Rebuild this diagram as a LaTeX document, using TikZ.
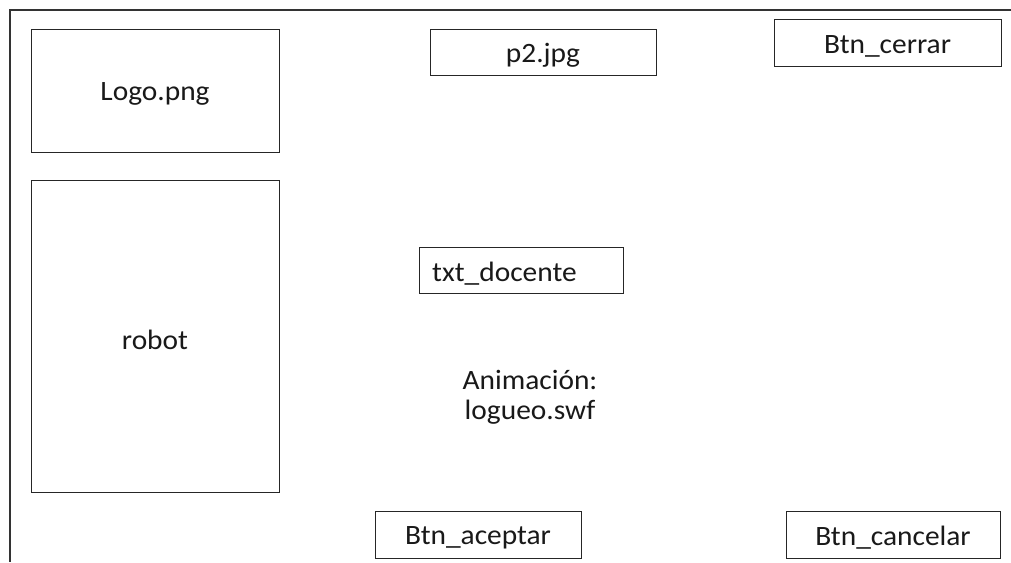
\documentclass[tikz,border=0pt]{standalone}
\usepackage{fontspec}
\setmainfont{Carlito}[FakeStretch=1.05]
\begin{document}
\begin{tikzpicture}[x=1pt,y=-1pt,
  frame/.style={draw=black!80,line width=1.1pt},
  box/.style={draw=black!85,line width=0.9pt,fill=white},
  lbl/.style={font=\fontsize{28}{30}\selectfont,text=black!90,inner sep=0pt,yshift=-3.5pt}]
\useasboundingbox (0,0) rectangle (1011,562);
\fill[white] (0,0) rectangle (1011,562);
\coordinate (tl) at (10,10);
\coordinate (tr) at (1011,10);
\coordinate (bl) at (10,562);
\draw[frame] (tr) -- (tl) -- (bl);
% boxes
\draw[box] (31,29) rectangle (279,152) node[pos=0.5,lbl] (logo) {Logo.png};
\draw[box] (31,180) rectangle (279,492) node[pos=0.5,lbl] (robot) {robot};
\draw[box] (430,29) rectangle (656,75) node[pos=0.5,lbl] (p2) {p2.jpg};
\draw[box] (774,19) rectangle (1001,66) node[pos=0.5,lbl] (cerrar) {Btn\_cerrar};
\draw[box] (419,247) rectangle (623,293);
\node[lbl,anchor=west] (docente) at (432,270) {txt\_docente};
\node[lbl,align=center] (anim) at (530,394) {Animación:\\logueo.swf};
\draw[box] (375,511) rectangle (581,558) node[pos=0.5,lbl] (aceptar) {Btn\_aceptar};
\draw[box] (786,511) rectangle (1000,558) node[pos=0.5,lbl] (cancelar) {Btn\_cancelar};
\end{tikzpicture}
\end{document}
